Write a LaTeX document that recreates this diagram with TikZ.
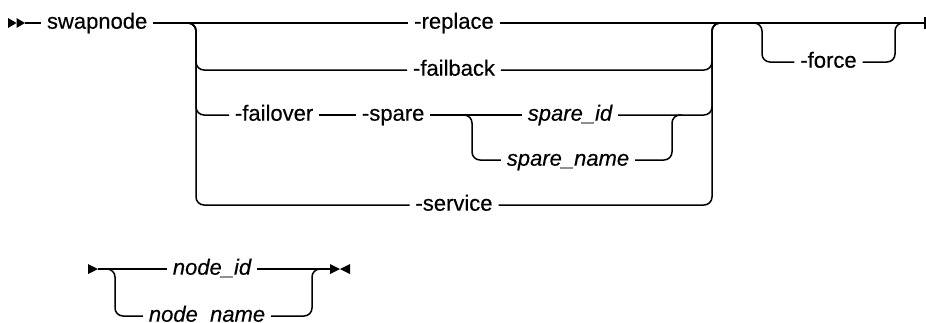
\documentclass[tikz,border=0pt]{standalone}
\usepackage{fontspec}
\setmainfont{Liberation Sans}
\newfontfamily\dfont{Liberation Sans}[FakeBold=0.35]
\usetikzlibrary{calc}
\begin{document}
\begin{tikzpicture}[x=1pt,y=-1pt,
  ln/.style={line width=1.5pt, rounded corners=8pt},
  lbl/.style={font=\dfont\fontsize{22}{26}\selectfont, inner sep=0pt, outer sep=6pt, text height=11.4pt, text depth=0pt},
  var/.style={lbl, font=\dfont\fontsize{22}{26}\selectfont\itshape},
  tip/.style={fill=black}]
\useasboundingbox (0,0) rectangle (926,322);
% start arrows
\coordinate (S) at (25,23);
\fill[tip] (8,18) -- (16.5,23) -- (8,28) -- cycle;
\fill[tip] (16.5,18) -- (25,23) -- (16.5,28) -- cycle;
\node[lbl, anchor=west] (sw) at (41,23) {swapnode};
\draw[ln] (S) -- (sw.west);
% junctions
\coordinate (L) at (196,23);
\coordinate (R) at (712,23);
\coordinate (FL) at (762,23);
\coordinate (FR) at (895,23);
\coordinate (E) at (925,23);
% main row
\node[lbl] (rep) at (454,23) {-replace};
\draw[ln] (sw.east) -- (rep.west);
\draw[ln] (rep.east) -- (E);
\draw[line width=1.5pt] ($(E)+(0,-6)$) -- ($(E)+(0,6)$);
% failback
\node[lbl] (fb) at (454,70) {-failback};
\draw[ln] ($(L)+(-10,0)$) -- (L) |- (fb.west);
\draw[ln] (fb.east) -| (R) -- ($(R)+(10,0)$);
% failover
\node[lbl, anchor=west] (fo) at (229,115) {-failover};
\node[lbl, anchor=west] (sp) at (356,115) {-spare};
\draw[ln] ($(L)+(-10,0)$) -- (L) |- (fo.west);
\draw[ln] (fo.east) -- (sp.west);
\coordinate (L2) at (472,115);
\coordinate (R2) at (672,115);
\node[var] (sid) at (570,115) {spare\_id};
\node[var] (snm) at (568,160) {spare\_name};
\draw[ln] (sp.east) -- (sid.west);
\draw[ln] (sid.east) -| (R) -- ($(R)+(10,0)$);
\draw[ln] ($(L2)+(-10,0)$) -- (L2) |- (snm.west);
\draw[ln] (snm.east) -| (R2) -- ($(R2)+(10,0)$);
% service
\node[lbl] (sv) at (454,205) {-service};
\draw[ln] ($(L)+(-10,0)$) -- (L) |- (sv.west);
\draw[ln] (sv.east) -| (R) -- ($(R)+(10,0)$);
% force
\node[lbl] (fc) at (828.5,62) {-force};
\draw[ln] ($(FL)+(-10,0)$) -- (FL) |- (fc.west);
\draw[ln] (fc.east) -| (FR) -- ($(FR)+(10,0)$);
% second line
\coordinate (BS) at (98,269);
\fill[tip] (88,264) -- (98,269) -- (88,274) -- cycle;
\coordinate (BL) at (115,269);
\coordinate (BR) at (312,269);
\coordinate (BE) at (330,269);
\node[var] (nid) at (212,269) {node\_id};
\node[var] (nnm) at (207,316) {node\_name};
\draw[ln] (BS) -- (nid.west);
\draw[ln] (nid.east) -- (BE);
\draw[ln] ($(BL)+(-10,0)$) -- (BL) |- (nnm.west);
\draw[ln] (nnm.east) -| (BR) -- ($(BR)+(10,0)$);
\fill[tip] (330,264) -- (340,269) -- (330,274) -- cycle;
\fill[tip] (350,264) -- (340,269) -- (350,274) -- cycle;
\end{tikzpicture}
\end{document}
